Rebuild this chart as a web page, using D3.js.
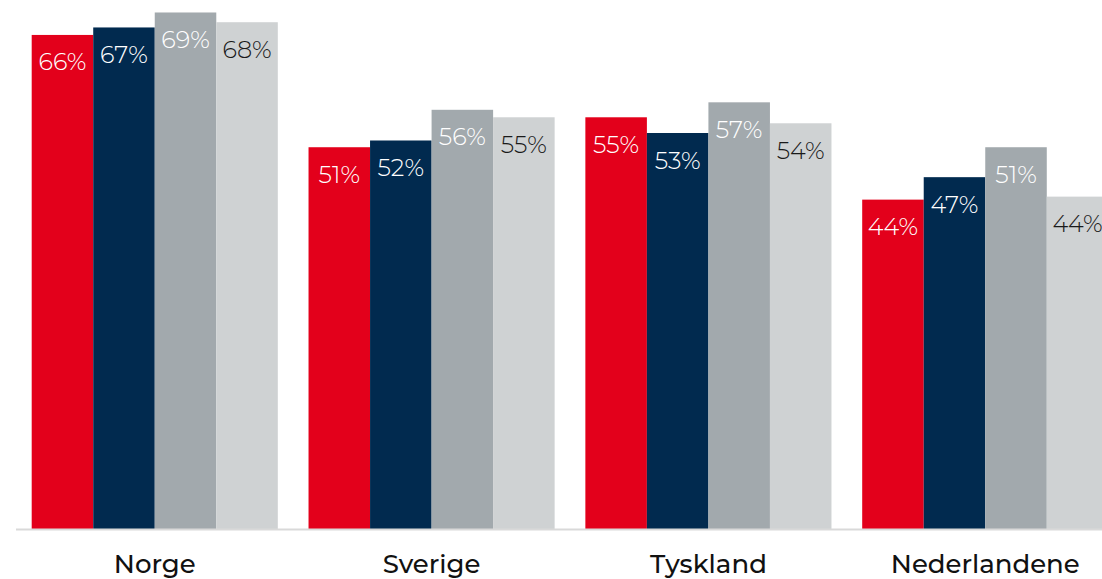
<!DOCTYPE html>
<html>
<head>
<meta charset="utf-8">
<script src="https://cdn.jsdelivr.net/npm/d3@7"></script>
<style>
    html, body { margin: 0; padding: 0; background: #fff; overflow: hidden; }
    svg { display: block; }
    .val { font-family: "Montserrat", "DejaVu Sans", sans-serif; font-size: 24px; font-weight: 300; }
    .cat { font-family: "Montserrat", "DejaVu Sans", sans-serif; font-size: 26px; font-weight: 500; fill: #111; }
</style>
</head>
<body>
<div id="chart"></div>
<script>
'use strict';

var categories = ['Norge', 'Sverige', 'Tyskland', 'Nederlandene'];
var series = ['s1', 's2', 's3', 's4'];
var seriesColors = ['#e3001b', '#012a4f', '#a2a9ad', '#cfd2d3'];
var labelColors = ['#ffffff', '#ffffff', '#ffffff', '#1a1a1a'];

// values per series, in category order
var s1 = [66.0, 51.0, 55.0, 44.0];
var s2 = [67.0, 51.9, 52.9, 47.0];
var s3 = [69.0, 56.0, 57.0, 51.0];
var s4 = [67.7, 55.0, 54.2, 44.4];
var values = [s1, s2, s3, s4];

var width = 1102;
var height = 579;
var baseline = 529;

var svg = d3.select('#chart').append('svg')
    .attr('width', width)
    .attr('height', height);

var x0 = d3.scaleBand()
    .domain(categories)
    .range([16, 1124])
    .paddingInner(0.111)
    .paddingOuter(0.0567);

var x1 = d3.scaleBand()
    .domain(series)
    .range([0, x0.bandwidth()]);

var y = d3.scaleLinear()
    .domain([0, 70])
    .range([baseline, 5]);

var rows = [];
categories.forEach(function(c, ci) {
    series.forEach(function(s, si) {
        rows.push({ cat: c, series: s, si: si, value: values[si][ci] });
    });
});

var groups = svg.selectAll('g.bar')
    .data(rows)
    .enter().append('g')
    .attr('class', 'bar')
    .attr('transform', function(d) { return 'translate(' + (x0(d.cat) + x1(d.series)) + ',0)'; });

groups.append('rect')
    .attr('x', 0)
    .attr('y', function(d) { return y(d.value); })
    .attr('width', x1.bandwidth())
    .attr('height', function(d) { return baseline - y(d.value); })
    .attr('fill', function(d) { return seriesColors[d.si]; });

groups.append('text')
    .attr('class', 'val')
    .attr('x', x1.bandwidth() / 2)
    .attr('y', function(d) { return y(d.value) + 35.5; })
    .attr('text-anchor', 'middle')
    .attr('fill', function(d) { return labelColors[d.si]; })
    .text(function(d) { return Math.round(d.value) + '%'; });

// baseline
svg.append('line')
    .attr('x1', x0.range()[0])
    .attr('x2', width)
    .attr('y1', baseline + 0.5)
    .attr('y2', baseline + 0.5)
    .style('stroke', '#d9d9d9')
    .style('stroke-width', 2);

var xAxis = svg.append('g')
    .attr('transform', 'translate(0,' + baseline + ')')
    .call(d3.axisBottom(x0).tickSize(0).tickPadding(0));
xAxis.select('.domain').remove();
xAxis.selectAll('text')
    .attr('class', 'cat')
    .attr('dy', null)
    .attr('y', 44)
    .attr('fill', null);
</script>
</body>
</html>
